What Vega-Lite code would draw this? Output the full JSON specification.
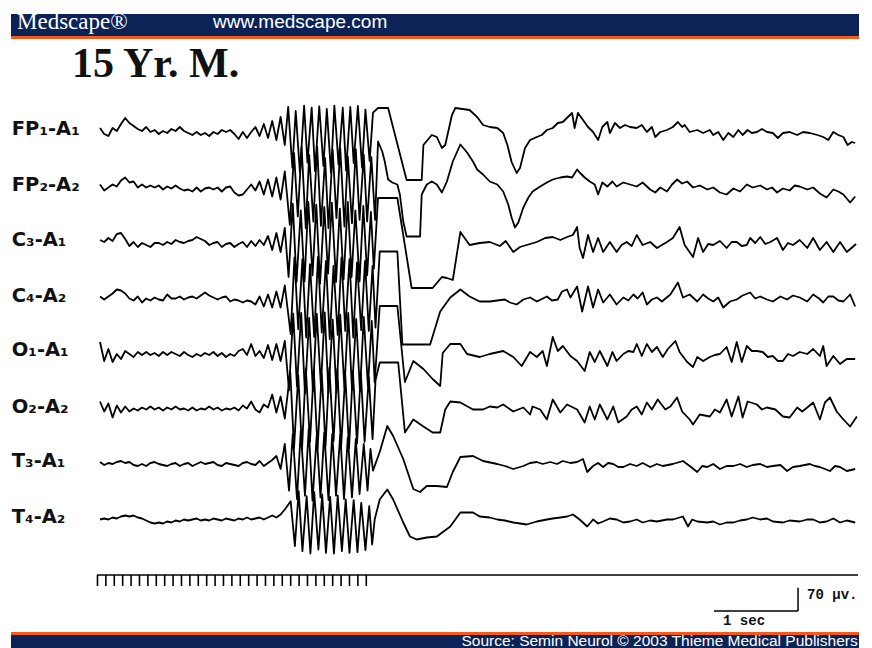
{
"$schema":"https://vega.github.io/schema/vega-lite/v6.json",
"padding":{"left":11,"right":13,"top":14,"bottom":0},
"background":"white",
"spacing":0,
"bounds":"flush",
"config":{"view":{"stroke":null},"concat":{"spacing":0}},
"datasets":{
"FP1":[{"t":0,"v":9},{"t":0.05,"v":-9},{"t":0.1,"v":-15},{"t":0.15,"v":9},{"t":0.2,"v":0},{"t":0.25,"v":21},{"t":0.3,"v":39},{"t":0.35,"v":24},{"t":0.4,"v":15},{"t":0.45,"v":6},{"t":0.5,"v":0},{"t":0.55,"v":12},{"t":0.6,"v":-3},{"t":0.65,"v":3},{"t":0.7,"v":-9},{"t":0.75,"v":0},{"t":0.8,"v":-6},{"t":0.85,"v":6},{"t":0.9,"v":0},{"t":0.95,"v":12},{"t":1,"v":0},{"t":1.05,"v":-6},{"t":1.1,"v":-12},{"t":1.15,"v":-3},{"t":1.2,"v":-12},{"t":1.25,"v":-6},{"t":1.3,"v":-15},{"t":1.35,"v":-3},{"t":1.4,"v":-9},{"t":1.45,"v":3},{"t":1.5,"v":-3},{"t":1.55,"v":3},{"t":1.6,"v":-9},{"t":1.65,"v":-24},{"t":1.7,"v":-3},{"t":1.75,"v":-21},{"t":1.8,"v":-3},{"t":1.85,"v":12},{"t":1.9,"v":-15},{"t":1.95,"v":21},{"t":2,"v":-21},{"t":2.05,"v":30},{"t":2.1,"v":-27},{"t":2.15,"v":42},{"t":2.2,"v":-42},
{"t":2.24,"v":72},{"t":2.29,"v":-110},{"t":2.33,"v":60},{"t":2.38,"v":-125},{"t":2.43,"v":76},{"t":2.47,"v":-95},{"t":2.52,"v":70},{"t":2.56,"v":-120},{"t":2.61,"v":74},{"t":2.66,"v":-105},{"t":2.7,"v":66},{"t":2.75,"v":-125},{"t":2.79,"v":76},{"t":2.84,"v":-100},{"t":2.89,"v":70},{"t":2.93,"v":-118},{"t":2.98,"v":72},{"t":3.02,"v":-96},{"t":3.07,"v":75},{"t":3.12,"v":-110},{"t":3.16,"v":64},{"t":3.21,"v":-90},{"t":3.25,"v":55},
{"t":3.31,"v":69},{"t":3.43,"v":69},{"t":3.65,"v":-147},{"t":3.83,"v":-147},{"t":3.85,"v":-42},{"t":3.95,"v":-12},{"t":4.01,"v":-18},{"t":4.07,"v":-51},{"t":4.11,"v":-42},{"t":4.19,"v":48},{"t":4.23,"v":69},{"t":4.4,"v":63},{"t":4.49,"v":42},{"t":4.56,"v":18},{"t":4.64,"v":12},{"t":4.73,"v":9},{"t":4.8,"v":-6},{"t":4.85,"v":-42},{"t":4.9,"v":-93},{"t":4.96,"v":-126},{"t":5,"v":-111},{"t":5.06,"v":-51},{"t":5.12,"v":-27},{"t":5.2,"v":-18},{"t":5.26,"v":-12},{"t":5.32,"v":3},{"t":5.39,"v":9},{"t":5.45,"v":24},{"t":5.51,"v":27},{"t":5.57,"v":42},{"t":5.62,"v":54},{"t":5.65,"v":9},{"t":5.69,"v":54},{"t":5.75,"v":33},{"t":5.81,"v":12},{"t":5.87,"v":-3},{"t":5.93,"v":-27},{"t":5.98,"v":12},{"t":6.04,"v":27},{"t":6.07,"v":-6},{"t":6.13,"v":24},{"t":6.19,"v":9},{"t":6.25,"v":18},{"t":6.31,"v":12},{"t":6.39,"v":9},{"t":6.45,"v":18},{"t":6.51,"v":-3},{"t":6.57,"v":12},{"t":6.61,"v":-18},{"t":6.67,"v":-3},{"t":6.75,"v":3},{"t":6.82,"v":12},{"t":6.88,"v":27},{"t":6.93,"v":12},{"t":6.96,"v":18},{"t":7.02,"v":-3},{"t":7.11,"v":3},{"t":7.18,"v":-6},{"t":7.26,"v":3},{"t":7.3,"v":-12},{"t":7.36,"v":-3},{"t":7.42,"v":-27},{"t":7.48,"v":-6},{"t":7.54,"v":-18},{"t":7.6,"v":3},{"t":7.65,"v":-12},{"t":7.71,"v":3},{"t":7.76,"v":-6},{"t":7.82,"v":-3},{"t":7.88,"v":6},{"t":7.94,"v":-3},{"t":8.01,"v":-6},{"t":8.07,"v":-21},{"t":8.13,"v":-6},{"t":8.21,"v":-3},{"t":8.3,"v":-12},{"t":8.37,"v":-3},{"t":8.45,"v":-6},{"t":8.54,"v":-12},{"t":8.61,"v":-18},{"t":8.67,"v":-27},{"t":8.73,"v":-3},{"t":8.79,"v":-12},{"t":8.85,"v":-18},{"t":8.9,"v":-42},{"t":8.95,"v":-33},{"t":8.99,"v":-36}],
"FP2":[{"t":0,"v":6},{"t":0.05,"v":-12},{"t":0.1,"v":-3},{"t":0.15,"v":6},{"t":0.2,"v":0},{"t":0.25,"v":18},{"t":0.3,"v":27},{"t":0.35,"v":12},{"t":0.4,"v":15},{"t":0.45,"v":-3},{"t":0.5,"v":6},{"t":0.55,"v":-3},{"t":0.6,"v":3},{"t":0.65,"v":-3},{"t":0.7,"v":3},{"t":0.75,"v":-9},{"t":0.8,"v":0},{"t":0.85,"v":-6},{"t":0.9,"v":3},{"t":0.95,"v":-6},{"t":1,"v":-12},{"t":1.05,"v":-9},{"t":1.1,"v":-15},{"t":1.15,"v":-3},{"t":1.2,"v":-15},{"t":1.25,"v":-6},{"t":1.3,"v":-3},{"t":1.35,"v":-9},{"t":1.4,"v":-3},{"t":1.45,"v":-15},{"t":1.5,"v":-3},{"t":1.55,"v":0},{"t":1.6,"v":-18},{"t":1.65,"v":-27},{"t":1.7,"v":-24},{"t":1.75,"v":-9},{"t":1.8,"v":6},{"t":1.85,"v":-12},{"t":1.9,"v":15},{"t":1.95,"v":-24},{"t":2,"v":21},{"t":2.05,"v":-30},{"t":2.1,"v":27},{"t":2.15,"v":-39},{"t":2.2,"v":45},
{"t":2.26,"v":-115},{"t":2.31,"v":100},{"t":2.355,"v":-90},{"t":2.4,"v":118},{"t":2.45,"v":-125},{"t":2.49,"v":95},{"t":2.54,"v":-105},{"t":2.585,"v":120},{"t":2.63,"v":-118},{"t":2.68,"v":85},{"t":2.72,"v":-125},{"t":2.77,"v":110},{"t":2.815,"v":-95},{"t":2.86,"v":115},{"t":2.91,"v":-120},{"t":2.95,"v":90},{"t":3,"v":-110},{"t":3.045,"v":112},{"t":3.09,"v":-100},{"t":3.14,"v":95},{"t":3.18,"v":-105},{"t":3.23,"v":88},{"t":3.275,"v":-100},
{"t":3.31,"v":135},{"t":3.36,"v":105},{"t":3.39,"v":75},{"t":3.43,"v":21},{"t":3.48,"v":12},{"t":3.54,"v":6},{"t":3.57,"v":-24},{"t":3.61,"v":-105},{"t":3.65,"v":-150},{"t":3.81,"v":-150},{"t":3.83,"v":-24},{"t":3.89,"v":6},{"t":3.95,"v":15},{"t":4.01,"v":6},{"t":4.07,"v":-18},{"t":4.13,"v":15},{"t":4.2,"v":75},{"t":4.29,"v":126},{"t":4.37,"v":102},{"t":4.44,"v":75},{"t":4.49,"v":51},{"t":4.56,"v":36},{"t":4.64,"v":15},{"t":4.73,"v":6},{"t":4.8,"v":-15},{"t":4.86,"v":-54},{"t":4.9,"v":-93},{"t":4.94,"v":-123},{"t":4.98,"v":-108},{"t":5.04,"v":-63},{"t":5.1,"v":-33},{"t":5.15,"v":-15},{"t":5.24,"v":0},{"t":5.32,"v":12},{"t":5.39,"v":21},{"t":5.48,"v":27},{"t":5.56,"v":30},{"t":5.62,"v":27},{"t":5.68,"v":51},{"t":5.71,"v":42},{"t":5.77,"v":27},{"t":5.83,"v":15},{"t":5.89,"v":6},{"t":5.93,"v":-24},{"t":5.98,"v":12},{"t":6.04,"v":0},{"t":6.1,"v":15},{"t":6.15,"v":0},{"t":6.23,"v":12},{"t":6.31,"v":6},{"t":6.39,"v":0},{"t":6.46,"v":12},{"t":6.55,"v":-9},{"t":6.61,"v":-18},{"t":6.67,"v":-3},{"t":6.75,"v":-15},{"t":6.81,"v":6},{"t":6.87,"v":21},{"t":6.93,"v":9},{"t":6.99,"v":15},{"t":7.06,"v":-3},{"t":7.14,"v":3},{"t":7.23,"v":-9},{"t":7.3,"v":-3},{"t":7.38,"v":-18},{"t":7.46,"v":-24},{"t":7.54,"v":-6},{"t":7.62,"v":-15},{"t":7.7,"v":6},{"t":7.77,"v":-3},{"t":7.86,"v":3},{"t":7.94,"v":-9},{"t":8,"v":-3},{"t":8.06,"v":-18},{"t":8.13,"v":-6},{"t":8.21,"v":-12},{"t":8.27,"v":3},{"t":8.33,"v":0},{"t":8.42,"v":-9},{"t":8.49,"v":-3},{"t":8.57,"v":-21},{"t":8.65,"v":-33},{"t":8.73,"v":-9},{"t":8.79,"v":-15},{"t":8.85,"v":-24},{"t":8.93,"v":-48},{"t":8.99,"v":-30}],
"C3":[{"t":0,"v":6},{"t":0.05,"v":0},{"t":0.1,"v":12},{"t":0.15,"v":3},{"t":0.2,"v":24},{"t":0.25,"v":27},{"t":0.3,"v":9},{"t":0.35,"v":-12},{"t":0.4,"v":0},{"t":0.45,"v":-15},{"t":0.5,"v":-3},{"t":0.55,"v":-9},{"t":0.6,"v":-15},{"t":0.65,"v":-3},{"t":0.7,"v":-3},{"t":0.75,"v":-9},{"t":0.8,"v":0},{"t":0.85,"v":-6},{"t":0.9,"v":6},{"t":0.95,"v":0},{"t":1,"v":-3},{"t":1.05,"v":3},{"t":1.1,"v":6},{"t":1.15,"v":15},{"t":1.2,"v":9},{"t":1.25,"v":3},{"t":1.3,"v":-9},{"t":1.35,"v":-3},{"t":1.4,"v":0},{"t":1.45,"v":-15},{"t":1.5,"v":-6},{"t":1.55,"v":-3},{"t":1.6,"v":-15},{"t":1.65,"v":-6},{"t":1.7,"v":0},{"t":1.75,"v":-15},{"t":1.8,"v":3},{"t":1.85,"v":-12},{"t":1.9,"v":6},{"t":1.95,"v":-9},{"t":2,"v":18},{"t":2.05,"v":-24},{"t":2.1,"v":27},{"t":2.15,"v":-30},{"t":2.2,"v":42},
{"t":2.245,"v":-105},{"t":2.295,"v":115},{"t":2.34,"v":-120},{"t":2.39,"v":95},{"t":2.435,"v":-118},{"t":2.48,"v":120},{"t":2.53,"v":-100},{"t":2.575,"v":112},{"t":2.62,"v":-125},{"t":2.67,"v":105},{"t":2.715,"v":-95},{"t":2.76,"v":118},{"t":2.81,"v":-120},{"t":2.855,"v":100},{"t":2.9,"v":-112},{"t":2.95,"v":120},{"t":2.995,"v":-105},{"t":3.04,"v":95},{"t":3.09,"v":-118},{"t":3.135,"v":108},{"t":3.18,"v":-100},{"t":3.225,"v":90},{"t":3.26,"v":-80},
{"t":3.31,"v":132},{"t":3.54,"v":132},{"t":3.71,"v":-138},{"t":3.96,"v":-138},{"t":4.07,"v":-105},{"t":4.13,"v":-108},{"t":4.2,"v":-114},{"t":4.29,"v":30},{"t":4.4,"v":-9},{"t":4.52,"v":-3},{"t":4.64,"v":0},{"t":4.76,"v":-12},{"t":4.83,"v":3},{"t":4.92,"v":-30},{"t":5,"v":-15},{"t":5.08,"v":-9},{"t":5.2,"v":0},{"t":5.3,"v":12},{"t":5.39,"v":15},{"t":5.48,"v":6},{"t":5.56,"v":15},{"t":5.63,"v":21},{"t":5.68,"v":45},{"t":5.71,"v":-18},{"t":5.75,"v":-48},{"t":5.81,"v":21},{"t":5.87,"v":-30},{"t":5.93,"v":12},{"t":5.99,"v":-30},{"t":6.07,"v":0},{"t":6.15,"v":-30},{"t":6.21,"v":-9},{"t":6.27,"v":0},{"t":6.33,"v":-12},{"t":6.39,"v":21},{"t":6.46,"v":-9},{"t":6.55,"v":0},{"t":6.63,"v":-18},{"t":6.75,"v":0},{"t":6.82,"v":12},{"t":6.9,"v":45},{"t":6.96,"v":-9},{"t":7.06,"v":-45},{"t":7.12,"v":12},{"t":7.18,"v":-30},{"t":7.24,"v":-6},{"t":7.3,"v":-9},{"t":7.38,"v":3},{"t":7.46,"v":-18},{"t":7.52,"v":0},{"t":7.58,"v":0},{"t":7.64,"v":-12},{"t":7.7,"v":-9},{"t":7.74,"v":12},{"t":7.8,"v":-3},{"t":7.86,"v":15},{"t":7.92,"v":-6},{"t":7.98,"v":0},{"t":8.06,"v":12},{"t":8.13,"v":-24},{"t":8.19,"v":-3},{"t":8.25,"v":-9},{"t":8.33,"v":6},{"t":8.42,"v":-18},{"t":8.49,"v":12},{"t":8.57,"v":-24},{"t":8.65,"v":0},{"t":8.73,"v":-30},{"t":8.81,"v":0},{"t":8.89,"v":-30},{"t":8.96,"v":-15},{"t":9,"v":-6}],
"C4":[{"t":0,"v":3},{"t":0.05,"v":-6},{"t":0.1,"v":3},{"t":0.15,"v":12},{"t":0.2,"v":24},{"t":0.25,"v":21},{"t":0.3,"v":12},{"t":0.35,"v":-3},{"t":0.4,"v":-9},{"t":0.45,"v":3},{"t":0.5,"v":-15},{"t":0.55,"v":-3},{"t":0.6,"v":-9},{"t":0.65,"v":0},{"t":0.7,"v":-6},{"t":0.75,"v":-9},{"t":0.8,"v":9},{"t":0.85,"v":-3},{"t":0.9,"v":-3},{"t":0.95,"v":3},{"t":1,"v":-6},{"t":1.05,"v":0},{"t":1.1,"v":3},{"t":1.15,"v":-3},{"t":1.2,"v":6},{"t":1.25,"v":15},{"t":1.3,"v":6},{"t":1.35,"v":0},{"t":1.4,"v":-6},{"t":1.45,"v":0},{"t":1.5,"v":3},{"t":1.55,"v":-12},{"t":1.6,"v":-6},{"t":1.65,"v":-9},{"t":1.7,"v":-15},{"t":1.75,"v":-9},{"t":1.8,"v":-12},{"t":1.85,"v":-21},{"t":1.9,"v":3},{"t":1.95,"v":-27},{"t":2,"v":9},{"t":2.05,"v":-30},{"t":2.1,"v":18},{"t":2.15,"v":-30},{"t":2.2,"v":36},
{"t":2.27,"v":-110},{"t":2.315,"v":120},{"t":2.36,"v":-95},{"t":2.41,"v":115},{"t":2.455,"v":-120},{"t":2.5,"v":100},{"t":2.55,"v":-118},{"t":2.595,"v":122},{"t":2.64,"v":-105},{"t":2.69,"v":110},{"t":2.735,"v":-125},{"t":2.78,"v":95},{"t":2.83,"v":-112},{"t":2.875,"v":120},{"t":2.92,"v":-100},{"t":2.97,"v":115},{"t":3.015,"v":-120},{"t":3.06,"v":105},{"t":3.11,"v":-98},{"t":3.155,"v":110},{"t":3.2,"v":-100},{"t":3.245,"v":95},{"t":3.28,"v":-90},
{"t":3.33,"v":138},{"t":3.54,"v":138},{"t":3.6,"v":-141},{"t":3.93,"v":-141},{"t":4.05,"v":-42},{"t":4.17,"v":0},{"t":4.29,"v":24},{"t":4.4,"v":3},{"t":4.52,"v":-12},{"t":4.64,"v":-12},{"t":4.82,"v":-6},{"t":4.88,"v":-15},{"t":4.96,"v":-21},{"t":5.04,"v":-6},{"t":5.12,"v":0},{"t":5.2,"v":-12},{"t":5.32,"v":3},{"t":5.38,"v":-9},{"t":5.45,"v":-6},{"t":5.5,"v":18},{"t":5.56,"v":24},{"t":5.6,"v":0},{"t":5.68,"v":33},{"t":5.74,"v":-42},{"t":5.81,"v":33},{"t":5.87,"v":-30},{"t":5.93,"v":24},{"t":5.99,"v":-15},{"t":6.07,"v":9},{"t":6.15,"v":-21},{"t":6.23,"v":0},{"t":6.29,"v":-9},{"t":6.35,"v":9},{"t":6.4,"v":-3},{"t":6.46,"v":15},{"t":6.51,"v":-21},{"t":6.57,"v":-6},{"t":6.63,"v":0},{"t":6.69,"v":-12},{"t":6.79,"v":9},{"t":6.88,"v":45},{"t":6.94,"v":0},{"t":7.02,"v":9},{"t":7.11,"v":-12},{"t":7.18,"v":9},{"t":7.24,"v":-3},{"t":7.3,"v":-12},{"t":7.36,"v":0},{"t":7.42,"v":-30},{"t":7.5,"v":-12},{"t":7.58,"v":-6},{"t":7.65,"v":6},{"t":7.74,"v":15},{"t":7.8,"v":-3},{"t":7.86,"v":3},{"t":7.94,"v":-6},{"t":8.01,"v":-12},{"t":8.1,"v":3},{"t":8.18,"v":-6},{"t":8.25,"v":6},{"t":8.33,"v":0},{"t":8.42,"v":-12},{"t":8.49,"v":9},{"t":8.56,"v":-3},{"t":8.61,"v":-15},{"t":8.67,"v":3},{"t":8.73,"v":3},{"t":8.79,"v":-9},{"t":8.85,"v":-12},{"t":8.93,"v":9},{"t":8.99,"v":-27}],
"O1":[{"t":0,"v":33},{"t":0.05,"v":-24},{"t":0.1,"v":12},{"t":0.15,"v":-27},{"t":0.2,"v":-3},{"t":0.25,"v":-18},{"t":0.3,"v":6},{"t":0.35,"v":-3},{"t":0.4,"v":-12},{"t":0.45,"v":3},{"t":0.5,"v":-6},{"t":0.55,"v":3},{"t":0.6,"v":-6},{"t":0.65,"v":0},{"t":0.7,"v":-9},{"t":0.75,"v":3},{"t":0.8,"v":-6},{"t":0.85,"v":3},{"t":0.9,"v":-3},{"t":0.95,"v":-9},{"t":1,"v":3},{"t":1.05,"v":-6},{"t":1.1,"v":-12},{"t":1.15,"v":-3},{"t":1.2,"v":-9},{"t":1.25,"v":0},{"t":1.3,"v":-6},{"t":1.35,"v":3},{"t":1.4,"v":-9},{"t":1.45,"v":0},{"t":1.5,"v":-12},{"t":1.55,"v":-3},{"t":1.6,"v":-9},{"t":1.65,"v":6},{"t":1.7,"v":12},{"t":1.75,"v":-6},{"t":1.8,"v":27},{"t":1.85,"v":-9},{"t":1.9,"v":6},{"t":1.95,"v":-15},{"t":2,"v":24},{"t":2.05,"v":-21},{"t":2.1,"v":27},{"t":2.15,"v":-24},{"t":2.2,"v":36},
{"t":2.25,"v":-112},{"t":2.3,"v":118},{"t":2.345,"v":-100},{"t":2.395,"v":120},{"t":2.44,"v":-122},{"t":2.49,"v":105},{"t":2.535,"v":-115},{"t":2.58,"v":118},{"t":2.63,"v":-98},{"t":2.675,"v":122},{"t":2.72,"v":-120},{"t":2.77,"v":100},{"t":2.815,"v":-118},{"t":2.86,"v":115},{"t":2.91,"v":-105},{"t":2.955,"v":120},{"t":3,"v":-110},{"t":3.05,"v":102},{"t":3.095,"v":-115},{"t":3.14,"v":108},{"t":3.19,"v":-100},{"t":3.235,"v":96},{"t":3.27,"v":-88},
{"t":3.33,"v":141},{"t":3.54,"v":141},{"t":3.63,"v":-87},{"t":3.73,"v":-24},{"t":3.85,"v":-48},{"t":3.96,"v":-78},{"t":4.05,"v":-99},{"t":4.08,"v":0},{"t":4.17,"v":27},{"t":4.29,"v":27},{"t":4.37,"v":-3},{"t":4.52,"v":-12},{"t":4.64,"v":-3},{"t":4.8,"v":6},{"t":4.92,"v":-12},{"t":5.02,"v":-39},{"t":5.12,"v":3},{"t":5.2,"v":-12},{"t":5.27,"v":6},{"t":5.32,"v":-39},{"t":5.39,"v":48},{"t":5.45,"v":6},{"t":5.51,"v":21},{"t":5.6,"v":-9},{"t":5.68,"v":-24},{"t":5.77,"v":-54},{"t":5.83,"v":3},{"t":5.89,"v":-27},{"t":5.95,"v":6},{"t":6.04,"v":-39},{"t":6.1,"v":3},{"t":6.15,"v":-24},{"t":6.23,"v":-3},{"t":6.29,"v":6},{"t":6.35,"v":3},{"t":6.39,"v":27},{"t":6.45,"v":-9},{"t":6.51,"v":27},{"t":6.57,"v":3},{"t":6.63,"v":18},{"t":6.7,"v":-12},{"t":6.76,"v":12},{"t":6.85,"v":36},{"t":6.9,"v":3},{"t":6.99,"v":-27},{"t":7.06,"v":-42},{"t":7.11,"v":-12},{"t":7.18,"v":-24},{"t":7.26,"v":-12},{"t":7.32,"v":-6},{"t":7.38,"v":-3},{"t":7.46,"v":18},{"t":7.52,"v":-27},{"t":7.58,"v":33},{"t":7.64,"v":-27},{"t":7.7,"v":21},{"t":7.76,"v":6},{"t":7.82,"v":6},{"t":7.89,"v":3},{"t":7.95,"v":-12},{"t":8.01,"v":-9},{"t":8.07,"v":-24},{"t":8.13,"v":-24},{"t":8.19,"v":-3},{"t":8.25,"v":-9},{"t":8.33,"v":3},{"t":8.42,"v":-3},{"t":8.49,"v":12},{"t":8.57,"v":-9},{"t":8.61,"v":21},{"t":8.65,"v":-39},{"t":8.73,"v":-9},{"t":8.81,"v":-33},{"t":8.89,"v":-18},{"t":8.99,"v":-18}],
"O2":[{"t":0,"v":21},{"t":0.05,"v":-9},{"t":0.1,"v":15},{"t":0.15,"v":-27},{"t":0.2,"v":9},{"t":0.25,"v":-12},{"t":0.3,"v":6},{"t":0.35,"v":-9},{"t":0.4,"v":0},{"t":0.45,"v":-6},{"t":0.5,"v":3},{"t":0.55,"v":-3},{"t":0.6,"v":6},{"t":0.65,"v":-3},{"t":0.7,"v":3},{"t":0.75,"v":-6},{"t":0.8,"v":3},{"t":0.85,"v":-3},{"t":0.9,"v":6},{"t":0.95,"v":-3},{"t":1,"v":0},{"t":1.05,"v":-6},{"t":1.1,"v":3},{"t":1.15,"v":-6},{"t":1.2,"v":0},{"t":1.25,"v":-3},{"t":1.3,"v":6},{"t":1.35,"v":-3},{"t":1.4,"v":3},{"t":1.45,"v":-6},{"t":1.5,"v":0},{"t":1.55,"v":-3},{"t":1.6,"v":3},{"t":1.65,"v":-6},{"t":1.7,"v":9},{"t":1.75,"v":0},{"t":1.8,"v":21},{"t":1.85,"v":-3},{"t":1.9,"v":-12},{"t":1.95,"v":12},{"t":2,"v":3},{"t":2.05,"v":42},{"t":2.1,"v":-12},{"t":2.15,"v":36},{"t":2.2,"v":-30},
{"t":2.265,"v":110},{"t":2.31,"v":-118},{"t":2.36,"v":100},{"t":2.405,"v":-122},{"t":2.45,"v":120},{"t":2.5,"v":-100},{"t":2.545,"v":115},{"t":2.59,"v":-120},{"t":2.64,"v":105},{"t":2.685,"v":-112},{"t":2.73,"v":122},{"t":2.78,"v":-98},{"t":2.825,"v":118},{"t":2.87,"v":-115},{"t":2.92,"v":100},{"t":2.965,"v":-120},{"t":3.01,"v":112},{"t":3.06,"v":-105},{"t":3.105,"v":108},{"t":3.15,"v":-100},{"t":3.2,"v":95},{"t":3.245,"v":-92},{"t":3.28,"v":85},
{"t":3.33,"v":138},{"t":3.55,"v":138},{"t":3.63,"v":-72},{"t":3.73,"v":-33},{"t":3.85,"v":-54},{"t":3.96,"v":-72},{"t":4.05,"v":-72},{"t":4.11,"v":-3},{"t":4.17,"v":21},{"t":4.29,"v":18},{"t":4.44,"v":-3},{"t":4.56,"v":-3},{"t":4.64,"v":6},{"t":4.73,"v":3},{"t":4.8,"v":12},{"t":4.92,"v":-9},{"t":5.04,"v":3},{"t":5.12,"v":-18},{"t":5.15,"v":6},{"t":5.24,"v":-3},{"t":5.32,"v":-33},{"t":5.39,"v":27},{"t":5.48,"v":-12},{"t":5.56,"v":12},{"t":5.68,"v":-3},{"t":5.77,"v":-42},{"t":5.83,"v":6},{"t":5.89,"v":-33},{"t":5.95,"v":12},{"t":6.04,"v":-33},{"t":6.11,"v":6},{"t":6.17,"v":-42},{"t":6.27,"v":-24},{"t":6.33,"v":-3},{"t":6.39,"v":6},{"t":6.45,"v":-18},{"t":6.51,"v":18},{"t":6.57,"v":-3},{"t":6.64,"v":27},{"t":6.73,"v":-3},{"t":6.79,"v":6},{"t":6.87,"v":33},{"t":6.93,"v":-9},{"t":7.02,"v":-33},{"t":7.06,"v":-48},{"t":7.14,"v":-18},{"t":7.26,"v":-24},{"t":7.32,"v":-3},{"t":7.38,"v":-12},{"t":7.46,"v":27},{"t":7.52,"v":-24},{"t":7.6,"v":36},{"t":7.65,"v":-27},{"t":7.71,"v":21},{"t":7.82,"v":12},{"t":7.88,"v":-3},{"t":7.94,"v":3},{"t":8.04,"v":-3},{"t":8.13,"v":-24},{"t":8.21,"v":-27},{"t":8.3,"v":3},{"t":8.36,"v":-9},{"t":8.42,"v":3},{"t":8.49,"v":18},{"t":8.57,"v":-33},{"t":8.63,"v":18},{"t":8.69,"v":33},{"t":8.77,"v":-9},{"t":8.85,"v":-33},{"t":8.93,"v":-54},{"t":9.01,"v":-24}],
"T3":[{"t":0,"v":6},{"t":0.05,"v":-3},{"t":0.1,"v":3},{"t":0.15,"v":0},{"t":0.2,"v":6},{"t":0.25,"v":9},{"t":0.3,"v":3},{"t":0.35,"v":6},{"t":0.4,"v":-3},{"t":0.45,"v":-6},{"t":0.5,"v":0},{"t":0.55,"v":-6},{"t":0.6,"v":3},{"t":0.65,"v":6},{"t":0.7,"v":0},{"t":0.75,"v":-3},{"t":0.8,"v":-6},{"t":0.85,"v":0},{"t":0.9,"v":3},{"t":0.95,"v":-6},{"t":1,"v":0},{"t":1.05,"v":3},{"t":1.1,"v":-6},{"t":1.15,"v":0},{"t":1.2,"v":6},{"t":1.25,"v":0},{"t":1.3,"v":3},{"t":1.35,"v":6},{"t":1.4,"v":-3},{"t":1.45,"v":-6},{"t":1.5,"v":3},{"t":1.55,"v":0},{"t":1.6,"v":-3},{"t":1.65,"v":-6},{"t":1.7,"v":3},{"t":1.75,"v":6},{"t":1.8,"v":0},{"t":1.85,"v":-3},{"t":1.9,"v":9},{"t":1.95,"v":-6},{"t":2,"v":3},{"t":2.05,"v":12},{"t":2.1,"v":24},{"t":2.15,"v":-15},{"t":2.2,"v":60},
{"t":2.25,"v":-80},{"t":2.295,"v":90},{"t":2.345,"v":-105},{"t":2.39,"v":100},{"t":2.44,"v":-95},{"t":2.485,"v":105},{"t":2.53,"v":-110},{"t":2.58,"v":85},{"t":2.625,"v":-100},{"t":2.67,"v":95},{"t":2.72,"v":-108},{"t":2.765,"v":90},{"t":2.81,"v":-95},{"t":2.86,"v":88},{"t":2.905,"v":-105},{"t":2.95,"v":80},{"t":3,"v":-100},{"t":3.045,"v":75},{"t":3.09,"v":-90},{"t":3.14,"v":60},{"t":3.185,"v":-80},{"t":3.22,"v":45},
{"t":3.25,"v":-20},{"t":3.33,"v":36},{"t":3.42,"v":114},{"t":3.49,"v":84},{"t":3.61,"v":15},{"t":3.73,"v":-75},{"t":3.81,"v":-84},{"t":3.89,"v":-66},{"t":4.01,"v":-66},{"t":4.13,"v":-69},{"t":4.2,"v":-24},{"t":4.29,"v":21},{"t":4.44,"v":24},{"t":4.56,"v":9},{"t":4.73,"v":0},{"t":4.82,"v":-6},{"t":4.92,"v":-15},{"t":5.04,"v":-6},{"t":5.12,"v":3},{"t":5.2,"v":6},{"t":5.27,"v":0},{"t":5.36,"v":6},{"t":5.44,"v":0},{"t":5.51,"v":9},{"t":5.6,"v":3},{"t":5.68,"v":6},{"t":5.75,"v":15},{"t":5.8,"v":-24},{"t":5.87,"v":-6},{"t":5.93,"v":3},{"t":5.99,"v":-9},{"t":6.05,"v":3},{"t":6.11,"v":0},{"t":6.17,"v":-9},{"t":6.23,"v":-9},{"t":6.31,"v":0},{"t":6.39,"v":-6},{"t":6.46,"v":3},{"t":6.55,"v":-9},{"t":6.63,"v":0},{"t":6.7,"v":-6},{"t":6.82,"v":0},{"t":6.94,"v":9},{"t":7.02,"v":-6},{"t":7.11,"v":-24},{"t":7.17,"v":-6},{"t":7.23,"v":-9},{"t":7.3,"v":0},{"t":7.38,"v":-15},{"t":7.46,"v":-6},{"t":7.54,"v":-6},{"t":7.62,"v":0},{"t":7.7,"v":-9},{"t":7.77,"v":-3},{"t":7.86,"v":0},{"t":7.94,"v":-9},{"t":8.01,"v":-6},{"t":8.1,"v":-3},{"t":8.18,"v":-21},{"t":8.25,"v":-9},{"t":8.33,"v":-6},{"t":8.45,"v":0},{"t":8.51,"v":-6},{"t":8.57,"v":-9},{"t":8.69,"v":-21},{"t":8.75,"v":-6},{"t":8.81,"v":-9},{"t":8.89,"v":-21},{"t":8.99,"v":-15}],
"T4":[{"t":0,"v":0},{"t":0.05,"v":3},{"t":0.1,"v":0},{"t":0.15,"v":6},{"t":0.2,"v":3},{"t":0.25,"v":9},{"t":0.3,"v":12},{"t":0.35,"v":9},{"t":0.4,"v":12},{"t":0.45,"v":6},{"t":0.5,"v":3},{"t":0.55,"v":-3},{"t":0.6,"v":-9},{"t":0.65,"v":-12},{"t":0.7,"v":-9},{"t":0.75,"v":-12},{"t":0.8,"v":-6},{"t":0.85,"v":-9},{"t":0.9,"v":-3},{"t":0.95,"v":-6},{"t":1,"v":0},{"t":1.05,"v":-3},{"t":1.1,"v":0},{"t":1.15,"v":3},{"t":1.2,"v":-3},{"t":1.25,"v":0},{"t":1.3,"v":-3},{"t":1.35,"v":3},{"t":1.4,"v":0},{"t":1.45,"v":-3},{"t":1.5,"v":3},{"t":1.55,"v":0},{"t":1.6,"v":-3},{"t":1.65,"v":3},{"t":1.7,"v":0},{"t":1.75,"v":6},{"t":1.8,"v":0},{"t":1.85,"v":3},{"t":1.9,"v":6},{"t":1.95,"v":0},{"t":2,"v":6},{"t":2.05,"v":12},{"t":2.1,"v":6},{"t":2.15,"v":15},{"t":2.2,"v":30},
{"t":2.27,"v":55},{"t":2.32,"v":-80},{"t":2.365,"v":85},{"t":2.41,"v":-95},{"t":2.46,"v":70},{"t":2.505,"v":-102},{"t":2.55,"v":82},{"t":2.6,"v":-90},{"t":2.645,"v":75},{"t":2.69,"v":-100},{"t":2.74,"v":68},{"t":2.785,"v":-102},{"t":2.83,"v":72},{"t":2.88,"v":-95},{"t":2.925,"v":60},{"t":2.97,"v":-100},{"t":3.02,"v":58},{"t":3.065,"v":-98},{"t":3.11,"v":50},{"t":3.16,"v":-92},{"t":3.205,"v":40},{"t":3.24,"v":-75},
{"t":3.27,"v":0},{"t":3.33,"v":60},{"t":3.42,"v":90},{"t":3.49,"v":60},{"t":3.61,"v":-9},{"t":3.69,"v":-51},{"t":3.77,"v":-60},{"t":3.89,"v":-54},{"t":4.01,"v":-51},{"t":4.17,"v":-21},{"t":4.29,"v":21},{"t":4.44,"v":21},{"t":4.52,"v":9},{"t":4.64,"v":6},{"t":4.73,"v":0},{"t":4.82,"v":-3},{"t":4.92,"v":-9},{"t":5,"v":-12},{"t":5.08,"v":-15},{"t":5.2,"v":-6},{"t":5.32,"v":0},{"t":5.39,"v":3},{"t":5.48,"v":6},{"t":5.56,"v":9},{"t":5.63,"v":15},{"t":5.71,"v":0},{"t":5.8,"v":-21},{"t":5.87,"v":0},{"t":5.93,"v":-12},{"t":5.99,"v":-6},{"t":6.07,"v":3},{"t":6.15,"v":0},{"t":6.23,"v":-9},{"t":6.31,"v":-6},{"t":6.39,"v":0},{"t":6.46,"v":-9},{"t":6.55,"v":-3},{"t":6.63,"v":-6},{"t":6.75,"v":0},{"t":6.82,"v":0},{"t":6.94,"v":9},{"t":7,"v":-21},{"t":7.05,"v":0},{"t":7.11,"v":-6},{"t":7.23,"v":-9},{"t":7.3,"v":-6},{"t":7.38,"v":-15},{"t":7.46,"v":-9},{"t":7.54,"v":-9},{"t":7.62,"v":-3},{"t":7.7,"v":0},{"t":7.77,"v":6},{"t":7.86,"v":0},{"t":7.94,"v":3},{"t":8.01,"v":-6},{"t":8.13,"v":-9},{"t":8.21,"v":-3},{"t":8.33,"v":-6},{"t":8.42,"v":0},{"t":8.49,"v":0},{"t":8.57,"v":-9},{"t":8.65,"v":-6},{"t":8.73,"v":3},{"t":8.81,"v":-9},{"t":8.89,"v":-3},{"t":8.99,"v":-9}],
"flash":[{"f":-0.03},{"f":0.07},{"f":0.17},{"f":0.27},{"f":0.37},{"f":0.47},{"f":0.57},{"f":0.67},{"f":0.77},{"f":0.87},{"f":0.97},{"f":1.07},{"f":1.17},{"f":1.27},{"f":1.37},{"f":1.47},{"f":1.57},{"f":1.67},{"f":1.77},{"f":1.87},{"f":1.97},{"f":2.07},{"f":2.17},{"f":2.27},{"f":2.37},{"f":2.47},{"f":2.57},{"f":2.67},{"f":2.77},{"f":2.87},{"f":2.97},{"f":3.07},{"f":3.17}],
"cal":[{"t0":7.31,"t1":8.31,"v0":0,"uv":70}]
},
"vconcat":[
{"width":848,"height":22,
 "data":{"values":[{"a":"Medscape®","b":"www.medscape.com"}]},
 "layer":[
  {"mark":{"type":"rect","color":"#0b2357"},"encoding":{"x":{"datum":-1.0595,"type":"quantitative","scale":{"domain":[-1.0595,9.0357],"nice":false,"zero":false},"axis":null},"x2":{"datum":9.0357}}},
  {"mark":{"type":"text","align":"left","baseline":"alphabetic","color":"white","font":"Liberation Serif","fontSize":23,"dy":4,"clip":true},
   "encoding":{"x":{"datum":-0.988,"type":"quantitative","scale":{"domain":[-1.0595,9.0357],"nice":false,"zero":false},"axis":null},"text":{"field":"a","type":"nominal"}}},
  {"mark":{"type":"text","align":"left","baseline":"alphabetic","color":"white","font":"Liberation Sans","fontSize":19,"dy":3,"clip":true},
   "encoding":{"x":{"datum":1.345,"type":"quantitative","scale":{"domain":[-1.0595,9.0357],"nice":false,"zero":false},"axis":null},"text":{"field":"b","type":"nominal"}}}
 ]},
{"width":848,"height":3,"data":{"values":[{"k":1}]},"mark":{"type":"rect","color":"#f45a1c"},"encoding":{}},
{"width":848,"height":64,"data":{"values":[{"s":"15 Yr. M."}]},
 "mark":{"type":"text","align":"left","baseline":"alphabetic","color":"#111111","font":"Liberation Serif","fontWeight":"bold","fontSize":42,"dy":5.5},
 "encoding":{"x":{"datum":-0.333,"type":"quantitative","scale":{"domain":[-1.0595,9.0357],"nice":false,"zero":false},"axis":null},"text":{"field":"s","type":"nominal"}}},
{"width":848,"height":56,"layer":[
 {"data":{"name":"FP1"},"mark":{"type":"line","color":"#000000","strokeWidth":1.8,"strokeJoin":"round"},
  "encoding":{"x":{"field":"t","type":"quantitative","scale":{"domain":[-1.0595,9.0357],"nice":false,"zero":false},"axis":null},"y":{"field":"v","type":"quantitative","scale":{"domain":[-84,84],"nice":false,"zero":false},"axis":null}}},
 {"data":{"values":[{"s":"FP₁-A₁"}]},"mark":{"type":"text","align":"left","baseline":"middle","font":"DejaVu Sans","fontWeight":"bold","fontSize":19.5,"dy":-2,"color":"#111111"},
  "encoding":{"x":{"datum":-1.05,"type":"quantitative"},"y":{"datum":0,"type":"quantitative"},"text":{"field":"s","type":"nominal"}}}]},
{"width":848,"height":55,"layer":[
 {"data":{"name":"FP2"},"mark":{"type":"line","color":"#000000","strokeWidth":1.8,"strokeJoin":"round"},
  "encoding":{"x":{"field":"t","type":"quantitative","scale":{"domain":[-1.0595,9.0357],"nice":false,"zero":false},"axis":null},"y":{"field":"v","type":"quantitative","scale":{"domain":[-82.5,82.5],"nice":false,"zero":false},"axis":null}}},
 {"data":{"values":[{"s":"FP₂-A₂"}]},"mark":{"type":"text","align":"left","baseline":"middle","font":"DejaVu Sans","fontWeight":"bold","fontSize":19.5,"dy":-2,"color":"#111111"},
  "encoding":{"x":{"datum":-1.05,"type":"quantitative"},"y":{"datum":0,"type":"quantitative"},"text":{"field":"s","type":"nominal"}}}]},
{"width":848,"height":56,"layer":[
 {"data":{"name":"C3"},"mark":{"type":"line","color":"#000000","strokeWidth":1.8,"strokeJoin":"round"},
  "encoding":{"x":{"field":"t","type":"quantitative","scale":{"domain":[-1.0595,9.0357],"nice":false,"zero":false},"axis":null},"y":{"field":"v","type":"quantitative","scale":{"domain":[-84,84],"nice":false,"zero":false},"axis":null}}},
 {"data":{"values":[{"s":"C₃-A₁"}]},"mark":{"type":"text","align":"left","baseline":"middle","font":"DejaVu Sans","fontWeight":"bold","fontSize":19.5,"dy":-2,"color":"#111111"},
  "encoding":{"x":{"datum":-1.05,"type":"quantitative"},"y":{"datum":0,"type":"quantitative"},"text":{"field":"s","type":"nominal"}}}]},
{"width":848,"height":55,"layer":[
 {"data":{"name":"C4"},"mark":{"type":"line","color":"#000000","strokeWidth":1.8,"strokeJoin":"round"},
  "encoding":{"x":{"field":"t","type":"quantitative","scale":{"domain":[-1.0595,9.0357],"nice":false,"zero":false},"axis":null},"y":{"field":"v","type":"quantitative","scale":{"domain":[-82.5,82.5],"nice":false,"zero":false},"axis":null}}},
 {"data":{"values":[{"s":"C₄-A₂"}]},"mark":{"type":"text","align":"left","baseline":"middle","font":"DejaVu Sans","fontWeight":"bold","fontSize":19.5,"dy":-2,"color":"#111111"},
  "encoding":{"x":{"datum":-1.05,"type":"quantitative"},"y":{"datum":0,"type":"quantitative"},"text":{"field":"s","type":"nominal"}}}]},
{"width":848,"height":56,"layer":[
 {"data":{"name":"O1"},"mark":{"type":"line","color":"#000000","strokeWidth":1.8,"strokeJoin":"round"},
  "encoding":{"x":{"field":"t","type":"quantitative","scale":{"domain":[-1.0595,9.0357],"nice":false,"zero":false},"axis":null},"y":{"field":"v","type":"quantitative","scale":{"domain":[-84,84],"nice":false,"zero":false},"axis":null}}},
 {"data":{"values":[{"s":"O₁-A₁"}]},"mark":{"type":"text","align":"left","baseline":"middle","font":"DejaVu Sans","fontWeight":"bold","fontSize":19.5,"dy":-3,"color":"#111111"},
  "encoding":{"x":{"datum":-1.05,"type":"quantitative"},"y":{"datum":0,"type":"quantitative"},"text":{"field":"s","type":"nominal"}}}]},
{"width":848,"height":55,"layer":[
 {"data":{"name":"O2"},"mark":{"type":"line","color":"#000000","strokeWidth":1.8,"strokeJoin":"round"},
  "encoding":{"x":{"field":"t","type":"quantitative","scale":{"domain":[-1.0595,9.0357],"nice":false,"zero":false},"axis":null},"y":{"field":"v","type":"quantitative","scale":{"domain":[-82.5,82.5],"nice":false,"zero":false},"axis":null}}},
 {"data":{"values":[{"s":"O₂-A₂"}]},"mark":{"type":"text","align":"left","baseline":"middle","font":"DejaVu Sans","fontWeight":"bold","fontSize":19.5,"dy":-2,"color":"#111111"},
  "encoding":{"x":{"datum":-1.05,"type":"quantitative"},"y":{"datum":0,"type":"quantitative"},"text":{"field":"s","type":"nominal"}}}]},
{"width":848,"height":56,"layer":[
 {"data":{"name":"T3"},"mark":{"type":"line","color":"#000000","strokeWidth":1.8,"strokeJoin":"round"},
  "encoding":{"x":{"field":"t","type":"quantitative","scale":{"domain":[-1.0595,9.0357],"nice":false,"zero":false},"axis":null},"y":{"field":"v","type":"quantitative","scale":{"domain":[-84,84],"nice":false,"zero":false},"axis":null}}},
 {"data":{"values":[{"s":"T₃-A₁"}]},"mark":{"type":"text","align":"left","baseline":"middle","font":"DejaVu Sans","fontWeight":"bold","fontSize":19.5,"dy":-3,"color":"#111111"},
  "encoding":{"x":{"datum":-1.05,"type":"quantitative"},"y":{"datum":0,"type":"quantitative"},"text":{"field":"s","type":"nominal"}}}]},
{"width":848,"height":55,"layer":[
 {"data":{"name":"T4"},"mark":{"type":"line","color":"#000000","strokeWidth":1.8,"strokeJoin":"round"},
  "encoding":{"x":{"field":"t","type":"quantitative","scale":{"domain":[-1.0595,9.0357],"nice":false,"zero":false},"axis":null},"y":{"field":"v","type":"quantitative","scale":{"domain":[-82.5,82.5],"nice":false,"zero":false},"axis":null}}},
 {"data":{"values":[{"s":"T₄-A₂"}]},"mark":{"type":"text","align":"left","baseline":"middle","font":"DejaVu Sans","fontWeight":"bold","fontSize":19.5,"dy":-3,"color":"#111111"},
  "encoding":{"x":{"datum":-1.05,"type":"quantitative"},"y":{"datum":0,"type":"quantitative"},"text":{"field":"s","type":"nominal"}}}]},
{"width":848,"height":85,"layer":[
 {"data":{"values":[{"a":-0.036,"b":9.024,"lv":108}]},"mark":{"type":"rule","color":"#000000","strokeWidth":1.6},
  "encoding":{"x":{"field":"a","type":"quantitative","scale":{"domain":[-1.0595,9.0357],"nice":false,"zero":false},"axis":null},"x2":{"field":"b"},"y":{"field":"lv","type":"quantitative","scale":{"domain":[-63,192],"nice":false,"zero":false},"axis":null}}},
 {"data":{"name":"flash"},"mark":{"type":"rule","color":"#000000","strokeWidth":1.6},
  "encoding":{"x":{"field":"f","type":"quantitative","scale":{"domain":[-1.0595,9.0357],"nice":false,"zero":false},"axis":null},"y":{"datum":108,"type":"quantitative","scale":{"domain":[-63,192],"nice":false,"zero":false},"axis":null},"y2":{"datum":75}}},
 {"data":{"name":"cal"},"mark":{"type":"rule","color":"#000000","strokeWidth":1.5},
  "encoding":{"x":{"field":"t0","type":"quantitative","scale":{"domain":[-1.0595,9.0357],"nice":false,"zero":false},"axis":null},"x2":{"field":"t1"},"y":{"field":"v0","type":"quantitative","scale":{"domain":[-63,192],"nice":false,"zero":false},"axis":null}}},
 {"data":{"name":"cal"},"mark":{"type":"rule","color":"#000000","strokeWidth":1.5},
  "encoding":{"x":{"field":"t1","type":"quantitative","scale":{"domain":[-1.0595,9.0357],"nice":false,"zero":false},"axis":null},"y":{"field":"v0","type":"quantitative","scale":{"domain":[-63,192],"nice":false,"zero":false},"axis":null},"y2":{"field":"uv"}}},
 {"data":{"values":[{"s":"70 µv."}]},"mark":{"type":"text","align":"left","baseline":"middle","font":"Liberation Mono","fontWeight":"bold","fontSize":14,"color":"#111111"},
  "encoding":{"x":{"datum":8.417,"type":"quantitative"},"y":{"datum":48,"type":"quantitative"},"text":{"field":"s","type":"nominal"}}},
 {"data":{"values":[{"s":"1 sec"}]},"mark":{"type":"text","align":"left","baseline":"alphabetic","font":"Liberation Mono","fontWeight":"bold","fontSize":14,"color":"#111111"},
  "encoding":{"x":{"datum":7.417,"type":"quantitative"},"y":{"datum":-42,"type":"quantitative"},"text":{"field":"s","type":"nominal"}}}
 ]},
{"width":848,"height":3,"data":{"values":[{"k":1}]},"mark":{"type":"rect","color":"#f45a1c"},"encoding":{}},
{"width":848,"height":13,
 "data":{"values":[{"s":"Source: Semin Neurol © 2003 Thieme Medical Publishers"}]},
 "layer":[
  {"mark":{"type":"rect","color":"#0b2357"},"encoding":{"x":{"datum":-1.0595,"type":"quantitative","scale":{"domain":[-1.0595,9.0357],"nice":false,"zero":false},"axis":null},"x2":{"datum":9.0357}}},
  {"mark":{"type":"text","align":"right","baseline":"alphabetic","color":"white","font":"Liberation Sans","fontSize":15.5,"dy":4},
   "encoding":{"x":{"datum":9.02,"type":"quantitative","scale":{"domain":[-1.0595,9.0357],"nice":false,"zero":false},"axis":null},"text":{"field":"s","type":"nominal"}}}
 ]}
]
}
